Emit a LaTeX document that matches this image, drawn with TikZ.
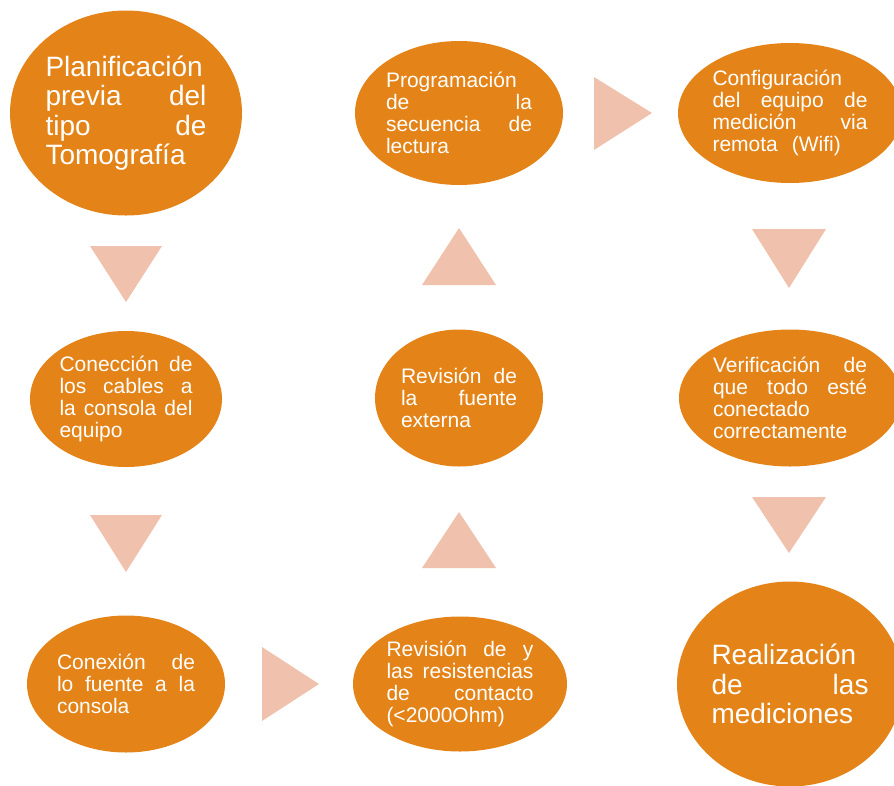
\documentclass[tikz,border=0pt]{standalone}
\usepackage{fontspec}
\setmainfont{Liberation Sans}
\usepackage{tikz}
\definecolor{etapaorange}{RGB}{228,131,23}
\definecolor{flechasalmon}{RGB}{240,193,172}
\usetikzlibrary{shapes.geometric}
\newcommand{\jline}[1]{\makebox[\hsize][s]{\spaceskip=.278em plus 1fil\relax #1}\\}

\begin{document}
\begin{tikzpicture}[x=1pt, y=-1pt,
		etapa/.style={ellipse, fill=etapaorange, text=white, inner sep=0pt, align=left,
			font=\fontsize{21}{22}\selectfont},
		grande/.style={font=\fontsize{28}{29.5}\selectfont},
		flecha/.style={fill=flechasalmon}]
		\useasboundingbox (0,0) rectangle (894,785);
		\clip (0,0) rectangle (894,785);
		% Etapas, columna izquierda
		\node[etapa, grande, minimum width=232, minimum height=205, text width=161] (plan) at (126,113)
			{Planificación\\\jline{previa del}\jline{tipo de}Tomografía};
		\node[etapa, minimum width=192, minimum height=136, text width=133] (cables) at (126,399)
			{\jline{Conección de}\jline{los cables a}\jline{la consola del}equipo};
		\node[etapa, minimum width=198, minimum height=137, text width=138] (fuente) at (126,684)
			{\jline{Conexión de}\jline{lo fuente a la}consola};
		% Etapas, columna central
		\node[etapa, minimum width=214, minimum height=135, text width=147] (resist) at (460,684)
			{\jline{Revisión de y}\jline{las resistencias}\jline{de contacto}(<2000Ohm)};
		\node[etapa, minimum width=168, minimum height=137, text width=116] (externa) at (459,398)
			{\jline{Revisión de}\jline{la fuente}externa};
		\node[etapa, minimum width=208, minimum height=144, text width=146] (prog) at (459,113)
			{Programación\\\jline{de la}\jline{secuencia de}lectura};
		% Etapas, columna derecha
		\node[etapa, minimum width=224, minimum height=140, text width=155] (config) at (790,113)
			{Configuración\\\jline{del equipo de}\jline{medición via}remota\ \ (Wifi)};
		\node[etapa, minimum width=222, minimum height=137, text width=154] (verif) at (790,398)
			{\jline{Verificación de}\jline{que todo esté}conectado\\correctamente};
		\node[etapa, grande, minimum width=226, minimum height=205, text width=157] (medic) at (790,684)
			{Realización\\\jline{de las}mediciones};
		% Flechas
		\fill[flecha] (90,246) -- (162,246) -- (126,302) -- cycle;
		\fill[flecha] (90,515) -- (162,515) -- (126,572) -- cycle;
		\fill[flecha] (262,647) -- (262,721) -- (319,684) -- cycle;
		\fill[flecha] (422,568) -- (496,568) -- (459,512) -- cycle;
		\fill[flecha] (422,285) -- (496,285) -- (459,228) -- cycle;
		\fill[flecha] (594,77) -- (594,150) -- (652,113) -- cycle;
		\fill[flecha] (752,229) -- (826,229) -- (789,288) -- cycle;
		\fill[flecha] (752,497) -- (826,497) -- (789,553) -- cycle;
	\end{tikzpicture}
\end{document}
